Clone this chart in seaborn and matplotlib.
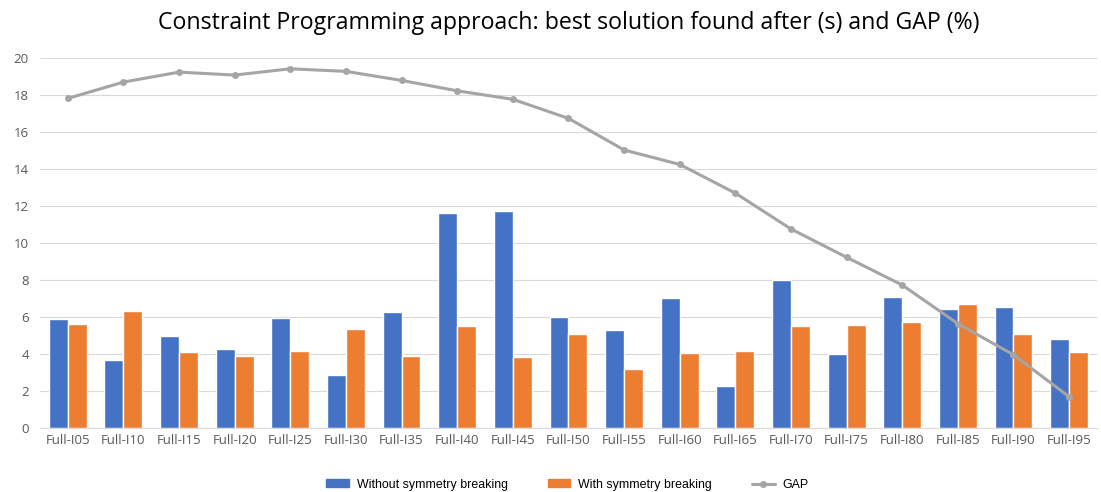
import numpy as np
import pandas as pd
import matplotlib
matplotlib.use("Agg")
import matplotlib.pyplot as plt
import seaborn as sns
from matplotlib.patches import Patch
from matplotlib.lines import Line2D

categories = ["Full-I05", "Full-I10", "Full-I15", "Full-I20", "Full-I25", "Full-I30",
              "Full-I35", "Full-I40", "Full-I45", "Full-I50", "Full-I55", "Full-I60",
              "Full-I65", "Full-I70", "Full-I75", "Full-I80", "Full-I85", "Full-I90",
              "Full-I95"]
without_sb = [5.88, 3.66, 5.00, 4.25, 5.93, 2.85, 6.27, 11.60, 11.73, 5.98,
              5.28, 7.03, 2.29, 8.02, 3.98, 7.07, 6.42, 6.53, 4.79]
with_sb = [5.63, 6.34, 4.09, 3.91, 4.15, 5.34, 3.91, 5.53, 3.85, 5.08,
           3.20, 4.04, 4.15, 5.53, 5.58, 5.73, 6.69, 5.08, 4.09]
gap = [17.82, 18.70, 19.24, 19.08, 19.42, 19.28, 18.79, 18.23, 17.77, 16.74,
       15.03, 14.25, 12.70, 10.76, 9.23, 7.73, 5.64, 3.96, 1.69]

series_names = ["Without symmetry breaking", "With symmetry breaking"]
colors = ["#4472C4", "#ED7D31"]
gap_color = "#A5A5A5"
text_color = "#595959"

df = pd.DataFrame({
    "instance": categories * 2,
    "value": without_sb + with_sb,
    "series": [series_names[0]] * len(categories) + [series_names[1]] * len(categories),
})

sns.set_style("white")
plt.rcParams["font.family"] = ["Open Sans", "DejaVu Sans"]

fig = plt.figure(figsize=(11.01, 4.92), dpi=100)
ax = fig.add_axes([0.0363, 0.130, 0.960, 0.752])

sns.barplot(data=df, x="instance", y="value", hue="series", palette=colors,
            width=0.68, gap=0, ax=ax, legend=False, saturation=1)
sns.lineplot(x=np.arange(len(categories)), y=gap, color=gap_color, linewidth=2.2,
             marker="o", markersize=5, markeredgewidth=0, ax=ax, zorder=3)

ax.set_xlim(-0.5, len(categories) - 0.5)
ax.set_ylim(0, 20)
ax.set_yticks(np.arange(0, 21, 2))
ax.yaxis.grid(True, color="#D9D9D9", linewidth=0.8)
ax.set_axisbelow(True)
for side in ["top", "right", "left"]:
    ax.spines[side].set_visible(False)
ax.spines["bottom"].set_color("#D9D9D9")
ax.tick_params(axis="both", length=0, labelsize=9.5, labelcolor=text_color)
ax.tick_params(axis="x", pad=4)
ax.tick_params(axis="y", pad=8)
ax.set_xlabel("")
ax.set_ylabel("")

fig.suptitle("Constraint Programming approach: best solution found after (s) and GAP (%)",
             x=0.517, y=0.978, fontsize=16.7, color="black")

handles = [Patch(color=colors[0]), Patch(color=colors[1]),
           Line2D([], [], color=gap_color, linewidth=2.2, marker="o", markersize=4)]
fig.legend(handles, series_names + ["GAP"], loc="lower center", ncol=3,
           bbox_to_anchor=(0.5154, -0.02), frameon=False,
           labelcolor="black", columnspacing=3.2, handlelength=1.85, handleheight=0.6,
           handletextpad=0.65,
           prop={"family": ["Liberation Sans", "DejaVu Sans"], "size": 8.9})

fig.savefig("out.png", dpi=100)
